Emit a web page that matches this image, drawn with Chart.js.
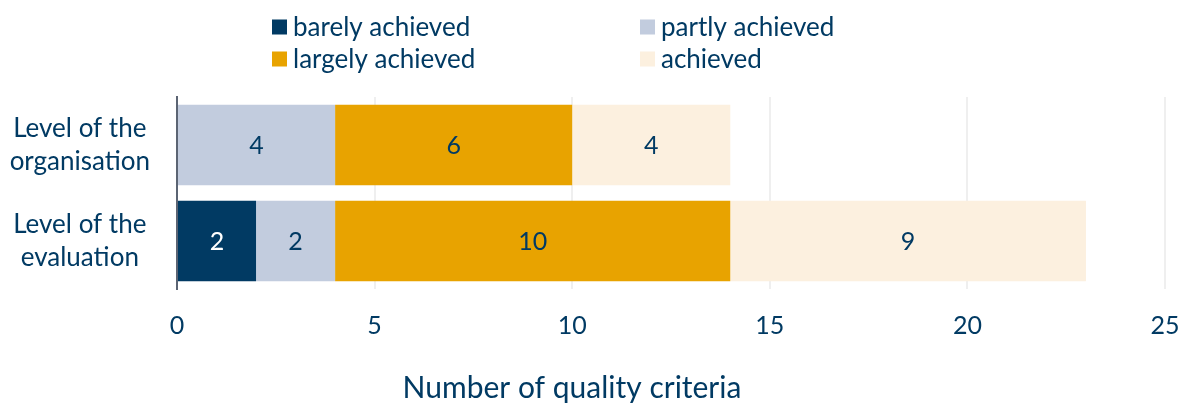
<!DOCTYPE html>
<html>
<head>
<meta charset="utf-8">
<script src="https://cdn.jsdelivr.net/npm/chart.js@4"></script>
<style>
  html, body { margin: 0; padding: 0; background: #fff; }
  #wrap { width: 1181px; height: 403px; }
</style>
</head>
<body>
<div id="wrap"><canvas id="canvas1"></canvas></div>
<script>
var categories = [["Level of the", "organisation"], ["Level of the", "evaluation"]];
var seriesNames = ["barely achieved", "partly achieved", "largely achieved", "achieved"];
var barelyValues = [0, 2];
var partlyValues = [4, 2];
var largelyValues = [6, 10];
var achievedValues = [4, 9];
var seriesColors = ["#013a63", "#c2ccde", "#e8a300", "#fcf0df"];
var labelColors = ["#ffffff", "#013a63", "#013a63", "#013a63"];
var xTicks = [0, 5, 10, 15, 20, 25];
var xTitle = "Number of quality criteria";

var textColor = "#013a63";
var fontFamily = "Lato, 'Open Sans', sans-serif";

// two-column legend above the plot, axis title under it
var gridLegend = {
  id: "gridLegend",
  afterDraw: function (chart) {
    var ctx = chart.ctx;
    var cols = [272, 640];
    var rows = [27, 59];
    ctx.save();
    ctx.font = "26px " + fontFamily;
    ctx.textBaseline = "middle";
    chart.data.datasets.forEach(function (ds, i) {
      var x = cols[i % 2];
      var y = rows[Math.floor(i / 2)];
      ctx.fillStyle = ds.backgroundColor;
      ctx.fillRect(x, y - 7.5, 15, 15);
      ctx.fillStyle = textColor;
      ctx.fillText(ds.label, x + 21, y + 1);
    });
    // the title sits left of the plot centre in the original
    ctx.font = "30px " + fontFamily;
    ctx.textAlign = "center";
    ctx.fillText(xTitle, 572, 388);
    ctx.restore();
  }
};

// value labels in the middle of each segment
var segmentLabels = {
  id: "segmentLabels",
  afterDatasetsDraw: function (chart) {
    var ctx = chart.ctx;
    ctx.save();
    ctx.font = "25px " + fontFamily;
    ctx.textAlign = "center";
    ctx.textBaseline = "middle";
    chart.data.datasets.forEach(function (ds, i) {
      var meta = chart.getDatasetMeta(i);
      meta.data.forEach(function (bar, j) {
        var v = ds.data[j];
        if (!v) return;
        ctx.fillStyle = labelColors[i];
        ctx.fillText(String(v), (bar.x + bar.base) / 2, bar.y + 1);
      });
    });
    ctx.restore();
  }
};

var allValues = [barelyValues, partlyValues, largelyValues, achievedValues];

new Chart("canvas1", {
  type: "bar",
  data: {
    labels: categories,
    datasets: seriesNames.map(function (name, i) {
      return {
        label: name,
        data: allValues[i],
        backgroundColor: seriesColors[i],
        borderWidth: 0,
        barPercentage: 0.84,
        categoryPercentage: 1.0
      };
    })
  },
  options: {
    indexAxis: "y",
    responsive: true,
    maintainAspectRatio: false,
    animation: false,
    layout: { padding: { top: 97, right: 0, left: 0, bottom: 0 } },
    plugins: {
      legend: { display: false },
      tooltip: { enabled: false }
    },
    scales: {
      x: {
        stacked: true,
        min: 0,
        max: 25,
        afterBuildTicks: function (axis) {
          axis.ticks = xTicks.map(function (v) { return { value: v }; });
        },
        afterFit: function (axis) {
          axis.height = 114;
          axis.paddingRight = 16;
        },
        grid: { color: "#efefef", lineWidth: 2, drawTicks: false },
        border: { display: false },
        ticks: {
          color: textColor,
          font: { family: fontFamily, size: 25 },
          padding: 22,
          maxRotation: 0
        }
      },
      y: {
        stacked: true,
        afterFit: function (axis) { axis.width = 177; },
        grid: { display: false, drawTicks: false },
        border: { display: true, color: "#5b6473", width: 2 },
        ticks: {
          color: textColor,
          font: { family: fontFamily, size: 26, lineHeight: 1.27 },
          crossAlign: "center",
          padding: 27
        }
      }
    }
  },
  plugins: [gridLegend, segmentLabels]
});
</script>
</body>
</html>
